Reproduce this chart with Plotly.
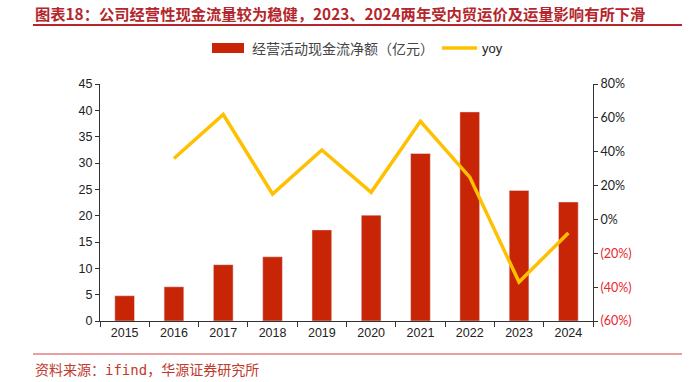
import plotly.graph_objects as go

years = ["2015", "2016", "2017", "2018", "2019", "2020", "2021", "2022", "2023", "2024"]
cash_flow = [4.8, 6.5, 10.7, 12.2, 17.3, 20.1, 31.8, 39.7, 24.8, 22.6]
yoy = [None, 36, 62, 15, 41, 16, 58, 25, -37, -8]

left_ticks = [0, 5, 10, 15, 20, 25, 30, 35, 40, 45]
right_tickvals = [80, 60, 40, 20, 0, -20, -40, -60]
right_ticktext = ["80%", "60%", "40%", "20%", "0%",
                  "<span style='color:#E8262B'>(20%)</span>",
                  "<span style='color:#E8262B'>(40%)</span>",
                  "<span style='color:#E8262B'>(60%)</span>"]

title = "图表18：公司经营性现金流量较为稳健，2023、2024两年受内贸运价及运量影响有所下滑"
source = "资料来源：ifind，华源证券研究所"
bar_name = "经营活动现金流净额（亿元）"
line_name = "yoy"

BAR = "#C82506"
LINE = "#FFC000"
TITLE_RED = "#B4262C"

L, R, T, B = 100, 593, 84, 321


def px(x):
    return (x - L) / (R - L)


def py(y):
    return (B - y) / (B - T)


fig = go.Figure()
fig.add_trace(go.Bar(x=years, y=cash_flow, name=bar_name, marker_color=BAR,
                     width=0.4, showlegend=False, yaxis="y"))
fig.add_trace(go.Scatter(x=years, y=yoy, name=line_name, mode="lines",
                         line=dict(color=LINE, width=3.5), showlegend=False,
                         yaxis="y2", connectgaps=False))

axis_font = dict(family="Liberation Sans, Arial", size=12.5, color="#222")
fig.update_layout(
    width=691, height=382,
    margin=dict(l=L, r=691 - R, t=T, b=382 - B),
    paper_bgcolor="white", plot_bgcolor="white",
    xaxis=dict(type="category", showline=True, linecolor="#333", linewidth=1,
               ticks="outside", ticklen=5, tickcolor="#333", tickfont=axis_font,
               showgrid=False, tickson="boundaries"),
    yaxis=dict(range=[0, 45], tickvals=left_ticks, showline=True, linecolor="#333",
               linewidth=1, ticks="outside", ticklen=4, tickcolor="#333",
               tickfont=axis_font, showgrid=False, zeroline=False),
    yaxis2=dict(range=[-60, 80], overlaying="y", side="right", tickvals=right_tickvals,
                ticktext=right_ticktext, showline=True, linecolor="#333", linewidth=1,
                ticks="outside", ticklen=4, tickcolor="#333",
                tickfont=dict(family="Lato, Liberation Sans", size=12.5, color="#222"),
                showgrid=False, zeroline=False),
)

# title and rule
fig.add_annotation(x=px(33), y=py(13), xref="paper", yref="paper", xanchor="left",
                   yanchor="middle", showarrow=False,
                   text="<b>" + title + "</b>",
                   font=dict(family="Noto Sans CJK SC", size=15.3, color=TITLE_RED))
fig.add_shape(type="line", xref="paper", yref="paper",
              x0=px(33), x1=px(682), y0=py(25), y1=py(25),
              line=dict(color=TITLE_RED, width=2))

# legend (manual)
fig.add_shape(type="rect", xref="paper", yref="paper",
              x0=px(212), x1=px(244), y0=py(53), y1=py(43),
              fillcolor=BAR, line=dict(width=0))
fig.add_annotation(x=px(250), y=py(48), xref="paper", yref="paper", xanchor="left",
                   yanchor="middle", showarrow=False, text=bar_name,
                   font=dict(family="Noto Sans CJK SC", size=14, color="#444"))
fig.add_shape(type="line", xref="paper", yref="paper",
              x0=px(442), x1=px(477), y0=py(48), y1=py(48),
              line=dict(color=LINE, width=3.5))
fig.add_annotation(x=px(480), y=py(48), xref="paper", yref="paper", xanchor="left",
                   yanchor="middle", showarrow=False, text=line_name,
                   font=dict(family="Liberation Sans, Arial", size=13, color="#222"))

# source rule and text
fig.add_shape(type="line", xref="paper", yref="paper",
              x0=px(33), x1=px(682), y0=py(354), y1=py(354),
              line=dict(color="#D04040", width=1.2))
fig.add_annotation(x=px(33), y=py(370), xref="paper", yref="paper",
                   xanchor="left", yanchor="middle", showarrow=False, text=source,
                   font=dict(family="DejaVu Sans Mono, Noto Sans CJK SC", size=14,
                             color="#C0392B"))

fig.write_html("out.html", config={"displayModeBar": False},
               post_script="document.body.style.margin='0';document.body.style.overflow='hidden';")
